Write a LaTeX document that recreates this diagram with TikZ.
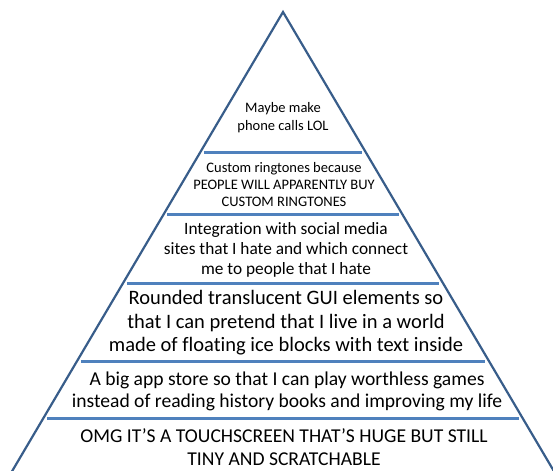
\documentclass[tikz,border=0pt]{standalone}
\usepackage{fontspec}
\setmainfont[Ligatures=NoCommon]{Carlito}
\usepackage{tikz}
\usetikzlibrary{calc}

\definecolor{edgeblue}{HTML}{385D8A}
\definecolor{sepblue}{HTML}{4F81BD}

\begin{document}
\begin{tikzpicture}[x=1bp, y=-1bp, line join=miter,
		side/.style={draw=edgeblue, line width=2.2bp},
		sep/.style={draw=sepblue, line width=3bp},
		layer/.style={align=center, inner sep=0pt, text=black}]
		\useasboundingbox (0, 0) rectangle (553, 471);
		\clip (0, 0) rectangle (553, 471);
		
		\coordinate (top)	at (283, 12);
		\coordinate (left)	at ({283-0.59*480}, 492);
		\coordinate (right)	at ({283+0.59*480}, 492);
		\draw[side] (left) -- (top) -- (right);
		
		\foreach \y in {153, 215, 283, 361, 418}
			\draw[sep] ({283-0.59*(\y-12)+4}, \y) -- ({283+0.59*(\y-12)-4}, \y);
		
		\node[layer, font=\fontsize{14.5bp}{18bp}\selectfont]		(1) at (283, 118) {Maybe make\\phone calls LOL};
		\node[layer, font=\fontsize{14.5bp}{17bp}\selectfont]		(2) at (284, 185) {Custom ringtones because\\PEOPLE WILL APPARENTLY BUY\\CUSTOM RINGTONES};
		\node[layer, font=\fontsize{17.3bp}{20bp}\selectfont]		(3) at (286, 250) {Integration with social media\\sites that I hate and which connect\\me to people that I hate};
		\node[layer, font=\fontsize{20.5bp}{23.5bp}\selectfont]	(4) at (286, 323) {Rounded translucent GUI elements so\\that I can pretend that I live in a world\\made of floating ice blocks with text inside};
		\node[layer, font=\fontsize{19.6bp}{22bp}\selectfont]		(5) at (287, 391) {A big app store so that I can play worthless games\\instead of reading history books and improving my life};
		\node[layer, font=\fontsize{19.6bp}{23bp}\selectfont]		(6) at (284, 447) {OMG IT’S A TOUCHSCREEN THAT’S HUGE BUT STILL\\TINY AND SCRATCHABLE};
	\end{tikzpicture}
\end{document}
